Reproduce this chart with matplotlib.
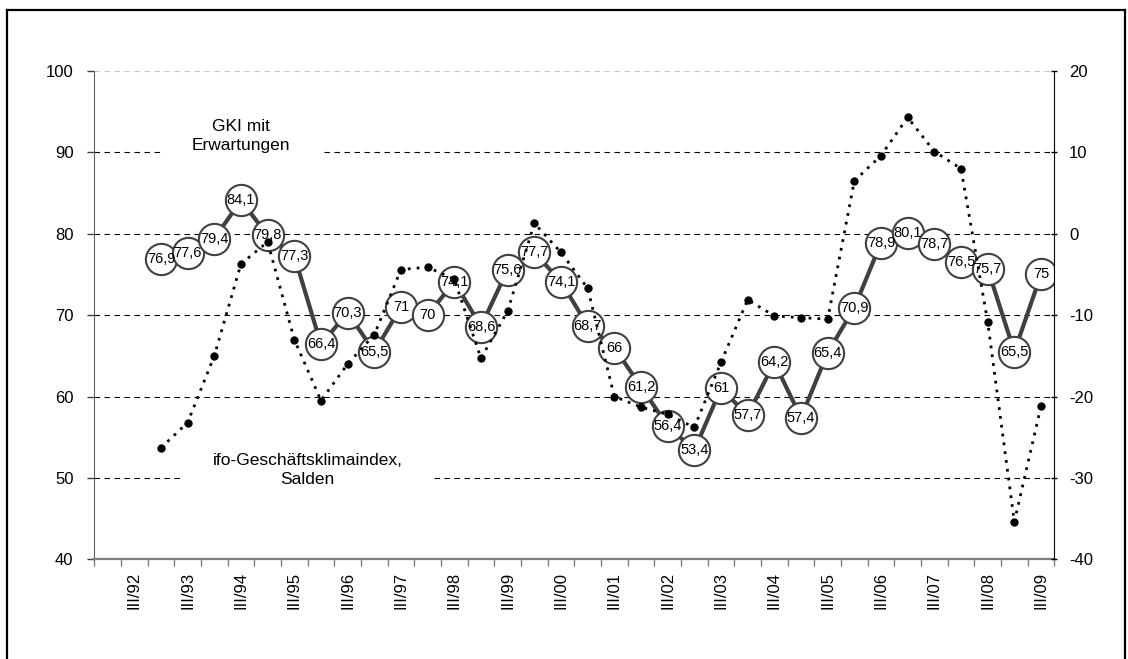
import numpy as np
import matplotlib.pyplot as plt
from matplotlib.lines import Line2D

plt.rcParams['font.family'] = ['Liberation Sans', 'DejaVu Sans']
plt.rcParams['axes.unicode_minus'] = False

# half-year categories I/92 ... III/09 (36 slots), only III/.. labelled
n_cat = 36
tick_labels = ["III/92", "III/93", "III/94", "III/95", "III/96", "III/97",
               "III/98", "III/99", "III/00", "III/01", "III/02", "III/03",
               "III/04", "III/05", "III/06", "III/07", "III/08", "III/09"]

# GKI mit Erwartungen (left axis), starts at I/93
gki = [76.9, 77.6, 79.4, 84.1, 79.8, 77.3, 66.4, 70.3, 65.5, 71, 70, 74.1,
       68.6, 75.6, 77.7, 74.1, 68.7, 66, 61.2, 56.4, 53.4, 61, 57.7, 64.2,
       57.4, 65.4, 70.9, 78.9, 80.1, 78.7, 76.5, 75.7, 65.5, 75]
gki_labels = ["76,9", "77,6", "79,4", "84,1", "79,8", "77,3", "66,4", "70,3",
              "65,5", "71", "70", "74,1", "68,6", "75,6", "77,7", "74,1",
              "68,7", "66", "61,2", "56,4", "53,4", "61", "57,7", "64,2",
              "57,4", "65,4", "70,9", "78,9", "80,1", "78,7", "76,5", "75,7",
              "65,5", "75"]

# ifo-Geschäftsklimaindex, Salden (right axis), starts at I/93
ifo = [-26.3, -23.2, -15.0, -3.7, -1.0, -13.0, -20.5, -16.0, -12.4, -4.4,
       -4.1, -5.6, -15.3, -9.5, 1.3, -2.3, -6.7, -20.0, -21.3, -22.2, -23.8,
       -15.8, -8.1, -10.1, -10.3, -10.5, 6.5, 9.6, 14.3, 10.1, 8.0, -10.8,
       -35.4, -21.2]

x_gki = np.arange(n_cat - len(gki), n_cat)
x_ifo = np.arange(n_cat - len(ifo), n_cat)

fig = plt.figure(figsize=(11.28, 6.59), dpi=100)
ax = fig.add_axes([0.0836, 0.1513, 0.8511, 0.741])

# outer frame
for xs, ys in [([0.0062, 0.0062], [0.0, 0.985]), ([0.0062, 0.9975], [0.985, 0.985]),
               ([0.9975, 0.9975], [0.985, 0.0])]:
    fig.add_artist(Line2D(xs, ys, color='black', lw=1.6, transform=fig.transFigure))

ax.set_xlim(-0.5, n_cat - 0.5)
ax.set_ylim(40, 100)
ax.set_yticks(range(40, 101, 10))

for v in range(50, 100, 10):
    ax.axhline(v, color='black', lw=0.8, ls=(0, (5, 4)), zorder=0)
ax.axhline(100, color='#c8c8c8', lw=0.8, ls=(0, (5, 4)), zorder=0)

ax.plot(x_gki, gki, color='#404040', lw=3, zorder=2)
ax.plot(x_gki, gki, ls='none', marker='o', ms=22.5, mfc='white', mec='#404040',
        mew=1.5, zorder=3)
for x, y, t in zip(x_gki, gki, gki_labels):
    ax.text(x, y, t, ha='center', va='center', fontsize=10.5, zorder=4)

ax.text(5, 92.0, "GKI mit\nErwartungen", ha='center', va='center', fontsize=12.5,
        linespacing=1.3, zorder=1,
        bbox=dict(boxstyle='square,pad=1.7', fc='white', ec='none'))
ax.text(7.5, 51.0, "ifo-Geschäftsklimaindex,\nSalden", ha='center', va='center',
        fontsize=12.5, linespacing=1.3, zorder=1,
        bbox=dict(boxstyle='square,pad=1.7', fc='white', ec='none'))

ax.set_xticks(np.arange(-0.5, n_cat, 1))
ax.set_xticklabels([])
ax.set_xticks(np.arange(1, n_cat, 2), minor=True)
ax.set_xticklabels(tick_labels, minor=True, rotation=90, fontsize=12)
ax.tick_params(axis='x', which='major', length=5, width=1, color='#808080', direction='out')
ax.tick_params(axis='x', which='minor', length=0, pad=9)
ax.tick_params(axis='y', length=5, width=1, color='#404040', labelsize=12, pad=10)

for s in ['top', 'right']:
    ax.spines[s].set_visible(False)
ax.spines['left'].set_color('#606060')
ax.spines['bottom'].set_color('#808080')
ax.spines['bottom'].set_linewidth(1.6)

ax2 = ax.twinx()
ax2.set_ylim(-40, 20)
ax2.set_yticks(range(-40, 21, 10))
ax2.plot(x_ifo, ifo, color='black', lw=2, ls=(0, (1, 2.2)), marker='o', ms=5,
         mfc='black', mec='black')
ax2.tick_params(axis='y', length=5, width=1, direction='inout', labelsize=12, pad=8)
for s in ['top', 'left', 'bottom']:
    ax2.spines[s].set_visible(False)
ax2.spines['right'].set_color('black')

fig.savefig('out.png', dpi=100)
